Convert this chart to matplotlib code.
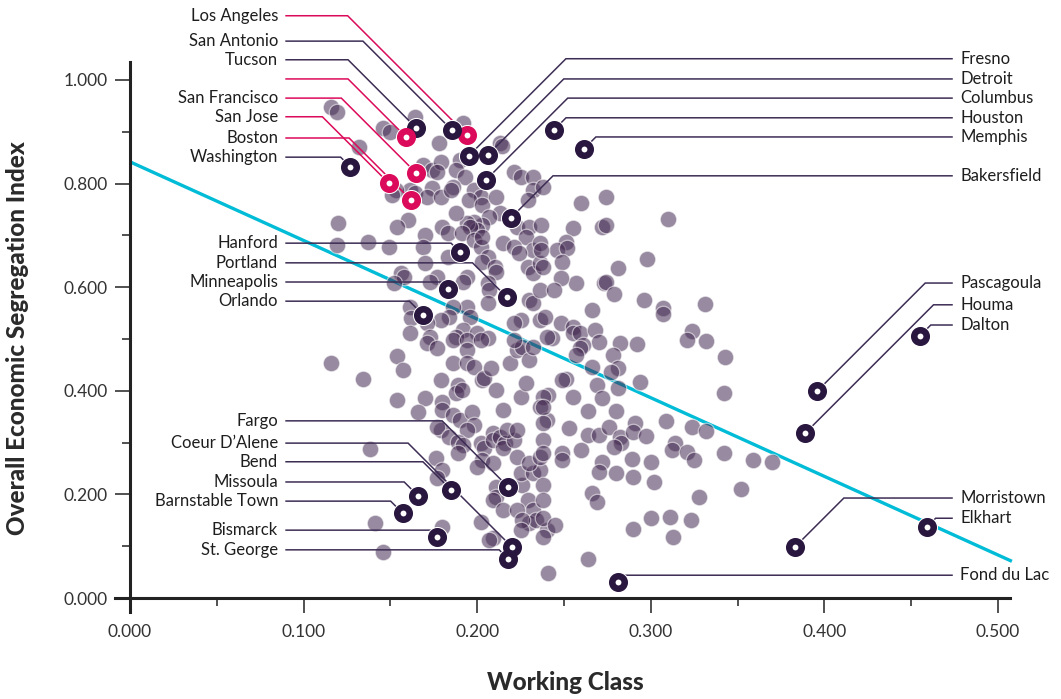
import numpy as np
import matplotlib.pyplot as plt
from matplotlib.ticker import MultipleLocator, FormatStrFormatter

plt.rcParams['font.family'] = ['Lato', 'DejaVu Sans']

# nuage gris, par zones
upper_x = [0.116, 0.119, 0.132, 0.146, 0.150, 0.164, 0.192, 0.178, 0.213, 0.214,
           0.169, 0.174, 0.179, 0.177, 0.190, 0.188, 0.193, 0.161, 0.164, 0.153,
           0.151, 0.174, 0.171, 0.179, 0.186, 0.185, 0.198, 0.202, 0.195, 0.203,
           0.221, 0.225, 0.232, 0.232, 0.238, 0.229, 0.211, 0.213, 0.207, 0.203,
           0.198, 0.200, 0.194, 0.196, 0.188, 0.180, 0.183, 0.170, 0.160, 0.154,
           0.120, 0.119, 0.137, 0.149, 0.169, 0.183, 0.191, 0.198, 0.202, 0.203,
           0.206, 0.203, 0.223, 0.230, 0.228, 0.232, 0.236, 0.215, 0.221, 0.224,
           0.210, 0.211, 0.194, 0.192, 0.177, 0.173, 0.170, 0.156, 0.158, 0.152,
           0.229, 0.232, 0.236, 0.206, 0.207, 0.230, 0.232, 0.236, 0.206, 0.194,
           0.196, 0.186, 0.184, 0.225, 0.221, 0.161, 0.162, 0.179, 0.171, 0.236,
           0.161, 0.173, 0.192, 0.200, 0.188, 0.206]
upper_y = [0.948, 0.938, 0.871, 0.907, 0.900, 0.929, 0.917, 0.878, 0.878, 0.873,
           0.836, 0.826, 0.842, 0.822, 0.846, 0.826, 0.813, 0.788, 0.782, 0.788,
           0.778, 0.792, 0.774, 0.774, 0.793, 0.788, 0.788, 0.774, 0.768, 0.759,
           0.822, 0.813, 0.813, 0.788, 0.793, 0.768, 0.774, 0.743, 0.736, 0.720,
           0.726, 0.710, 0.724, 0.716, 0.743, 0.716, 0.705, 0.701, 0.730, 0.716,
           0.724, 0.681, 0.687, 0.678, 0.678, 0.658, 0.705, 0.691, 0.678, 0.697,
           0.658, 0.649, 0.716, 0.716, 0.697, 0.672, 0.685, 0.685, 0.678, 0.666,
           0.639, 0.629, 0.620, 0.610, 0.620, 0.610, 0.647, 0.627, 0.620, 0.608,
           0.639, 0.627, 0.647, 0.608, 0.595, 0.575, 0.569, 0.595, 0.569, 0.562,
           0.542, 0.562, 0.542, 0.537, 0.531, 0.562, 0.541, 0.537, 0.531, 0.537,
           0.512, 0.504, 0.517, 0.512, 0.504, 0.502]

right_x = [0.260, 0.274, 0.310, 0.272, 0.274, 0.255, 0.237, 0.251, 0.246, 0.252,
           0.249, 0.237, 0.238, 0.298, 0.281, 0.273, 0.274, 0.257, 0.279, 0.248,
           0.244, 0.296, 0.307, 0.307, 0.331, 0.266, 0.239, 0.248, 0.255, 0.255,
           0.259, 0.268, 0.243, 0.270, 0.261, 0.259, 0.282, 0.292, 0.324, 0.321,
           0.332, 0.343, 0.257, 0.278, 0.281, 0.277, 0.266, 0.251, 0.249, 0.269,
           0.281, 0.294, 0.241, 0.255, 0.342, 0.272]
right_y = [0.763, 0.774, 0.732, 0.716, 0.720, 0.714, 0.720, 0.687, 0.672, 0.676,
           0.649, 0.672, 0.639, 0.655, 0.637, 0.608, 0.610, 0.608, 0.587, 0.618,
           0.595, 0.575, 0.560, 0.548, 0.568, 0.556, 0.542, 0.531, 0.523, 0.512,
           0.512, 0.517, 0.502, 0.494, 0.488, 0.483, 0.492, 0.490, 0.515, 0.498,
           0.496, 0.465, 0.469, 0.469, 0.444, 0.436, 0.446, 0.423, 0.421, 0.411,
           0.405, 0.417, 0.392, 0.388, 0.396, 0.386]

lower_x = [0.116, 0.134, 0.154, 0.157, 0.171, 0.177, 0.186, 0.194, 0.202, 0.194,
           0.186, 0.194, 0.198, 0.203, 0.204, 0.208, 0.219, 0.223, 0.226, 0.230,
           0.221, 0.232, 0.240, 0.179, 0.189, 0.188, 0.191, 0.211, 0.225, 0.228,
           0.238, 0.236, 0.154, 0.170, 0.166, 0.180, 0.180, 0.186, 0.190, 0.197,
           0.198, 0.194, 0.179, 0.177, 0.184, 0.189, 0.192, 0.189, 0.202, 0.204,
           0.209, 0.209, 0.213, 0.216, 0.215, 0.221, 0.217, 0.223, 0.215, 0.223,
           0.203, 0.200, 0.209, 0.176, 0.180, 0.177, 0.211, 0.211, 0.209, 0.215,
           0.226, 0.225, 0.232, 0.236, 0.230, 0.236, 0.240, 0.229, 0.232, 0.230,
           0.234, 0.223, 0.226, 0.225, 0.240, 0.138, 0.141, 0.146, 0.180, 0.202,
           0.209, 0.207]
lower_y = [0.454, 0.423, 0.467, 0.440, 0.492, 0.483, 0.498, 0.498, 0.498, 0.479,
           0.454, 0.454, 0.446, 0.421, 0.425, 0.444, 0.454, 0.479, 0.485, 0.459,
           0.498, 0.485, 0.504, 0.421, 0.411, 0.396, 0.402, 0.402, 0.388, 0.415,
           0.388, 0.369, 0.382, 0.386, 0.359, 0.378, 0.363, 0.353, 0.344, 0.359,
           0.334, 0.324, 0.324, 0.330, 0.311, 0.301, 0.295, 0.280, 0.299, 0.290,
           0.319, 0.305, 0.311, 0.299, 0.290, 0.305, 0.324, 0.324, 0.363, 0.272,
           0.266, 0.253, 0.261, 0.270, 0.247, 0.232, 0.214, 0.195, 0.189, 0.170,
           0.218, 0.241, 0.241, 0.247, 0.261, 0.272, 0.344, 0.189, 0.170, 0.145,
           0.151, 0.170, 0.151, 0.131, 0.131, 0.288, 0.145, 0.089, 0.137, 0.147,
           0.116, 0.112]

lowright_x = [0.264, 0.280, 0.253, 0.264, 0.270, 0.276, 0.282, 0.283, 0.279, 0.291,
              0.290, 0.297, 0.309, 0.324, 0.332, 0.314, 0.312, 0.321, 0.325, 0.238,
              0.238, 0.238, 0.238, 0.249, 0.249, 0.260, 0.272, 0.270, 0.280, 0.289,
              0.290, 0.300, 0.302, 0.342, 0.359, 0.370, 0.352, 0.328, 0.266, 0.269,
              0.238, 0.238, 0.238, 0.245, 0.238, 0.290, 0.300, 0.311, 0.323, 0.313,
              0.264, 0.241]
lowright_y = [0.361, 0.361, 0.328, 0.315, 0.315, 0.330, 0.311, 0.299, 0.292, 0.338,
              0.320, 0.313, 0.342, 0.330, 0.322, 0.299, 0.286, 0.282, 0.266, 0.369,
              0.338, 0.305, 0.280, 0.280, 0.266, 0.286, 0.263, 0.243, 0.241, 0.268,
              0.234, 0.263, 0.224, 0.280, 0.266, 0.263, 0.210, 0.195, 0.203, 0.185,
              0.218, 0.189, 0.154, 0.141, 0.118, 0.133, 0.154, 0.156, 0.151, 0.118,
              0.075, 0.048]

cloud_x = upper_x + right_x + lower_x + lowright_x
cloud_y = upper_y + right_y + lower_y + lowright_y

# villes mises en avant
city_names = ["Los Angeles", "San Antonio", "Tucson", "", "San Francisco", "San Jose",
              "Boston", "Washington", "Hanford", "Portland", "Minneapolis", "Orlando",
              "Fargo", "Coeur D\u2019Alene", "Bend", "Missoula", "Barnstable Town",
              "Bismarck", "St. George",
              "Fresno", "Detroit", "Columbus", "Houston", "Memphis", "Bakersfield",
              "Pascagoula", "Houma", "Dalton", "Morristown", "Elkhart", "Fond du Lac"]
city_x = [0.194, 0.1855, 0.165, 0.159, 0.165, 0.149, 0.162, 0.127, 0.190, 0.217,
          0.183, 0.169, 0.218, 0.220, 0.185, 0.166, 0.157, 0.177, 0.218,
          0.195, 0.206, 0.205, 0.244, 0.2615, 0.2195,
          0.396, 0.389, 0.455, 0.383, 0.459, 0.281]
city_y = [0.894, 0.903, 0.907, 0.890, 0.820, 0.801, 0.768, 0.832, 0.668, 0.581,
          0.597, 0.546, 0.214, 0.0985, 0.2085, 0.197, 0.164, 0.118, 0.075,
          0.853, 0.855, 0.807, 0.903, 0.867, 0.734,
          0.400, 0.3185, 0.506, 0.0985, 0.137, 0.031]
city_pink = [True, False, False, True, True, True, True, False] + [False] * 23
label_side = ["L"] * 19 + ["R"] * 12
label_y = [1.124, 1.075, 1.039, 1.002, 0.965, 0.929, 0.888, 0.851,
           0.685, 0.647, 0.610, 0.573,
           0.342, 0.299, 0.263, 0.224, 0.187, 0.131, 0.093,
           1.041, 1.002, 0.965, 0.927, 0.890, 0.815,
           0.608, 0.566, 0.527, 0.193, 0.154, 0.044]

# droite de tendance
trend_intercept = 0.842
trend_slope = -1.518
trend_end = 0.508

CLOUD = "#442a52"
DARK = "#2a1740"
LINE_DARK = "#3d2d55"
PINK = "#dc0a5a"
CYAN = "#00bcd6"
AXIS = "#222222"

W, H = 1061, 699
fig = plt.figure(figsize=(W / 100, H / 100), dpi=100)
ax = fig.add_axes([115 / W, 87 / H, 895 / W, 550 / H])
ax.set_xlim(-0.00864, 0.5069)
ax.set_ylim(-0.0270, 1.0347)

for s in ["top", "right"]:
    ax.spines[s].set_visible(False)
for s in ["left", "bottom"]:
    ax.spines[s].set_position(("data", 0))
    ax.spines[s].set_linewidth(2.2)
    ax.spines[s].set_color(AXIS)

ax.xaxis.set_major_locator(MultipleLocator(0.1))
ax.xaxis.set_minor_locator(MultipleLocator(0.05))
ax.yaxis.set_major_locator(MultipleLocator(0.2))
ax.yaxis.set_minor_locator(MultipleLocator(0.1))
ax.xaxis.set_major_formatter(FormatStrFormatter("%.3f"))
ax.yaxis.set_major_formatter(FormatStrFormatter("%.3f"))
ax.set_xticks([t for t in ax.get_xticks() if -0.001 < t < 0.501])
ax.set_yticks([t for t in ax.get_yticks() if -0.001 < t < 1.001])
ax.tick_params(which="major", length=11, width=1.1, color=AXIS,
               labelsize=12.5, labelcolor="#333333")
ax.tick_params(which="minor", length=5.5, width=1.1, color=AXIS)
ax.tick_params(axis="x", which="major", pad=8)
ax.tick_params(axis="y", which="major", pad=5)

# tendance sous les points
xr = np.array([0.0, trend_end])
ax.plot(xr, trend_intercept + trend_slope * xr, color=CYAN, lw=2.4,
        solid_capstyle="butt", zorder=2, clip_on=False)

ax.scatter(cloud_x, cloud_y, s=140, c=CLOUD, alpha=0.55, edgecolors="white",
           linewidths=0.9, zorder=3)

# traits de rappel a 45 degres (calcules en pixels)
to_disp = ax.transData.transform
to_data = ax.transData.inverted().transform
left_line_x, left_text_x = 0.0899, 0.0853
right_line_x, right_text_x = 0.4735, 0.4781

for name, cx, cy, pink, side, ly in zip(city_names, city_x, city_y, city_pink,
                                        label_side, label_y):
    col = PINK if pink else DARK
    lcol = PINK if pink else LINE_DARK
    px, py = to_disp((cx, cy))
    if side == "L":
        sx, sy = to_disp((left_line_x, ly))
        d = abs(sy - py)
        pts = np.array([(sx, sy), (px - d, sy), (px, py)])
    else:
        sx, sy = to_disp((right_line_x, ly))
        d = abs(sy - py)
        pts = np.array([(px, py), (px + d, sy), (sx, sy)])
    pts = to_data(pts)
    ax.plot(pts[:, 0], pts[:, 1], color=lcol, lw=1.1, zorder=4, clip_on=False,
            solid_joinstyle="miter")
    ax.scatter([cx], [cy], s=230, c="white", linewidths=0, zorder=5)
    ax.scatter([cx], [cy], s=81, facecolors="white", edgecolors=col,
               linewidths=4.7, zorder=6)
    if name:
        if side == "L":
            ax.text(left_text_x, ly, name, ha="right", va="center", fontsize=12,
                    color="#1e1e1e")
        else:
            ax.text(right_text_x, ly, name, ha="left", va="center", fontsize=12,
                    color="#1e1e1e")

fig.text(18 / W, 1 - 338 / H, "Overall Economic Segregation Index", rotation=90,
         ha="center", va="center", fontsize=17.5, fontweight="black", color="#2a2a2a")
fig.text(565 / W, 1 - 683 / H, "Working Class", ha="center", va="center",
         fontsize=17.5, fontweight="black", color="#2a2a2a")

fig.savefig("out.png", dpi=100)
